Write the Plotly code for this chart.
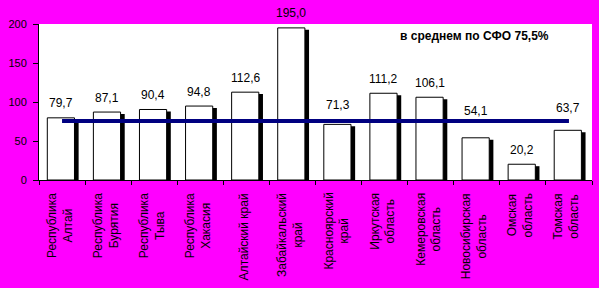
import plotly.graph_objects as go

regions = ["Республика Алтай", "Республика Бурятия", "Республика Тыва", "Республика Хакасия",
           "Алтайский край", "Забайкальский край", "Красноярский край", "Иркутская область",
           "Кемеровская область", "Новосибирская область", "Омская область", "Томская область"]
tick_labels = ["Республика<br>Алтай", "Республика<br>Бурятия", "Республика<br>Тыва", "Республика<br>Хакасия",
               "Алтайский край", "Забайкальский<br>край", "Красноярский<br>край", "Иркутская<br>область",
               "Кемеровская<br>область", "Новосибирская<br>область", "Омская<br>область", "Томская<br>область"]
values = [79.7, 87.1, 90.4, 94.8, 112.6, 195.0, 71.3, 111.2, 106.1, 54.1, 20.2, 63.7]
average = 75.5
average_label = "в среднем по СФО 75,5%"
y_ticks = [0, 50, 100, 150, 200]

# style: vertical pixel lift of each value label above its bar (some were nudged above the line)
label_lift = [14.5, 14.5, 14.5, 14.5, 14.5, 14.5, 19, 14.5, 14.5, 27, 14.5, 22]

FONT = "Liberation Sans, Arial, sans-serif"
shadow_drop = 2.5  # shadow sits slightly lower, like the original style

fig = go.Figure()
# shadow bars
fig.add_trace(go.Bar(x=regions, y=[v - shadow_drop for v in values], width=0.59, offset=-0.23,
                     marker=dict(color="black", line=dict(width=0)), hoverinfo="skip"))
# main bars
fig.add_trace(go.Bar(x=regions, y=values, width=0.59, offset=-0.32,
                     marker=dict(color="white", line=dict(color="black", width=1)), hoverinfo="skip"))
# average line
fig.add_trace(go.Scatter(x=[regions[0], regions[-1]], y=[average, average], mode="lines",
                         line=dict(color="#000080", width=4), hoverinfo="skip"))

for r, v, lift in zip(regions, values, label_lift):
    fig.add_annotation(x=r, y=v, xref="x", yref="y", text=f"{v:.1f}".replace(".", ","),
                       showarrow=False, yanchor="middle", yshift=lift, xshift=-1,
                       font=dict(family=FONT, size=12, color="black"))

# category labels, rotated, lines centred as in the original
for r, t in zip(regions, tick_labels):
    fig.add_annotation(x=r, y=0, xref="x", yref="paper", text=t, textangle=-90,
                       showarrow=False, xanchor="center", yanchor="top", align="center",
                       yshift=-12, xshift=-2.5, borderpad=0,
                       font=dict(family=FONT, size=12, color="black"))

fig.add_annotation(x=0.788, y=0.923, xref="paper", yref="paper", text=f"<b>{average_label}</b>",
                   showarrow=False, xanchor="center", yanchor="middle",
                   font=dict(family=FONT, size=12, color="black"))

fig.update_layout(
    width=599, height=288,
    margin=dict(l=39, r=7, t=24, b=108),
    paper_bgcolor="#FF00FF", plot_bgcolor="white",
    barmode="overlay", showlegend=False,
    font=dict(family=FONT, size=11, color="black"),
)
fig.update_xaxes(tickmode="array", tickvals=regions, showticklabels=False,
                 tickson="boundaries", ticks="outside", ticklen=4, tickcolor="black",
                 showline=True, linecolor="black", linewidth=1, showgrid=False)
fig.update_yaxes(range=[0, 200], tickvals=y_ticks, ticks="outside", ticklen=5, tickcolor="black",
                 ticklabelstandoff=4,
                 showline=True, linecolor="black", linewidth=1, showgrid=False, zeroline=False,
                 tickfont=dict(family=FONT, size=11, color="black"))

fig.write_html("out.html")
